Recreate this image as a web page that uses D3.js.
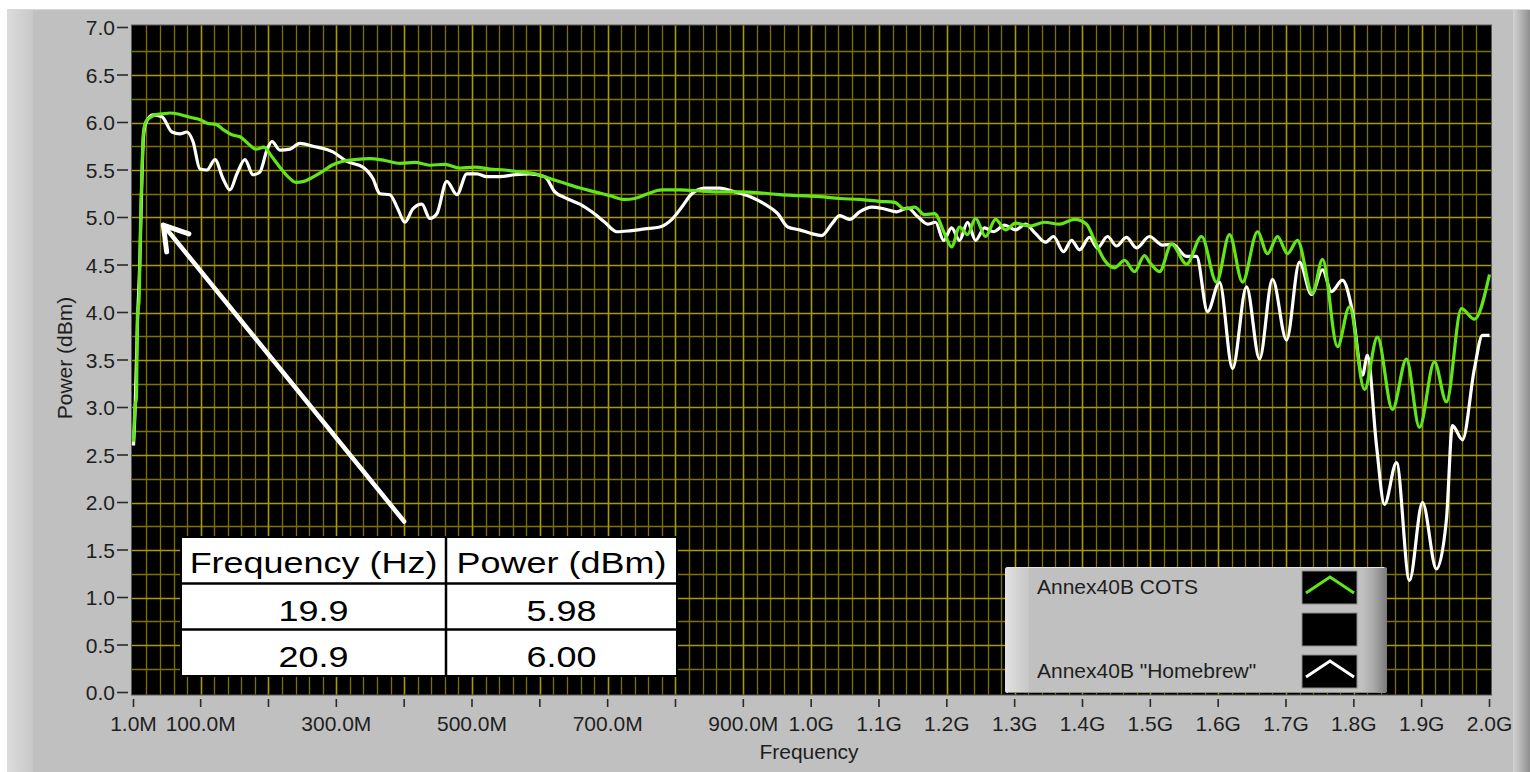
<!DOCTYPE html>
<html>
<head>
<meta charset="utf-8">
<script src="https://cdn.jsdelivr.net/npm/d3@7"></script>
<style>
  html, body { margin: 0; padding: 0; background: #ffffff; }
  svg { display: block; }
  .lv { font-family: "Liberation Sans", Arial, sans-serif; fill: #1e1e1e; }
</style>
</head>
<body>
<svg id="chart" width="1530" height="772"></svg>
<script>
// ---------------- DATA ----------------
const cotsFreqMHz = [1, 3.2, 5.4, 6.9, 9.1, 10.6, 12.1, 12.8, 14.3, 15.7, 19.4, 25.3, 32.7, 43.0, 54.8, 66.6, 76.9, 87.2, 99.0,
  110.8, 122.6, 134.3, 146.1, 157.9, 169.7, 181.5, 193.3, 205.1, 216.8, 228.6, 240.4, 252.2, 264.0, 278.7, 293.5, 308.2,
  327.4, 349.5, 371.6, 393.7, 415.8, 437.9, 460.0, 482.1, 504.2, 526.3, 548.4, 570.5, 592.6, 614.7, 636.8, 659.0, 681.1,
  703.1, 725.2, 740.0, 759.1, 779.7, 806.2, 835.7, 865.2, 894.6, 924.1, 953.6, 983.0, 1012.5, 1042.0, 1071.4, 1100.9,
  1123.0, 1137.7, 1152.5, 1167.2, 1181.9, 1196.7, 1207.0, 1218.8, 1230.6, 1242.3, 1257.1, 1271.8, 1286.6, 1301.3, 1321.9,
  1344.0, 1366.1, 1388.2, 1405.9, 1417.7, 1432.5, 1447.2, 1462.0, 1476.7, 1491.4, 1498.8, 1513.6, 1531.2, 1553.4, 1575.5,
  1597.6, 1616.7, 1635.9, 1658.0, 1672.7, 1687.5, 1702.2, 1716.9, 1739.0, 1753.8, 1775.9, 1793.6, 1815.7, 1834.8, 1856.9,
  1877.6, 1896.7, 1918.8, 1936.5, 1958.6, 1977.8, 2000];
const cotsPower = [2.64, 3.00, 3.11, 4.01, 4.11, 4.64, 5.17, 5.32, 5.69, 5.90, 6.01, 6.05, 6.08, 6.09, 6.10, 6.09, 6.07, 6.05, 6.03,
  5.99, 5.98, 5.92, 5.87, 5.85, 5.78, 5.72, 5.74, 5.64, 5.53, 5.43, 5.37, 5.38, 5.42, 5.48, 5.55, 5.59,
  5.61, 5.62, 5.60, 5.57, 5.58, 5.55, 5.56, 5.52, 5.53, 5.51, 5.50, 5.48, 5.46, 5.41, 5.36, 5.31, 5.27,
  5.23, 5.19, 5.20, 5.25, 5.29, 5.29, 5.28, 5.27, 5.27, 5.26, 5.24, 5.23, 5.22, 5.20, 5.19, 5.17,
  5.16, 5.09, 5.11, 5.03, 5.04, 4.83, 4.69, 4.90, 4.82, 4.99, 4.80, 4.98, 4.87, 4.94, 4.91,
  4.95, 4.93, 4.98, 4.93, 4.76, 4.55, 4.47, 4.55, 4.43, 4.60, 4.53, 4.43, 4.72, 4.51, 4.80,
  4.32, 4.82, 4.32, 4.85, 4.62, 4.80, 4.62, 4.76, 4.20, 4.56, 3.64, 4.06, 3.19, 3.74, 2.98,
  3.51, 2.79, 3.48, 3.06, 4.04, 3.93, 4.40];

const homebrewFreqMHz = [1, 3.2, 6.9, 10.6, 13.0, 15.7, 19.4, 29.7, 43.0, 57.7, 69.5, 79.8, 88.7, 99.0, 109.3, 121.1, 132.9,
  143.2, 153.5, 165.3, 177.1, 187.4, 197.7, 205.1, 216.8, 231.6, 246.3, 265.5, 295.0, 315.6, 339.2, 353.9, 364.2, 378.9,
  390.7, 401.0, 412.8, 426.1, 437.9, 448.2, 462.9, 477.7, 492.4, 507.1, 521.9, 541.0, 563.1, 585.2, 607.3, 622.1, 636.8,
  659.0, 676.6, 695.8, 713.5, 732.7, 754.8, 776.9, 794.6, 809.3, 824.1, 843.2, 865.2, 887.4, 909.5, 931.6, 950.7, 965.5,
  983.0, 1000.7, 1015.5, 1030.2, 1042.0, 1056.7, 1071.4, 1089.1, 1108.3, 1126.0, 1142.2, 1156.9, 1171.6, 1183.4, 1195.2,
  1207.0, 1218.8, 1230.6, 1242.3, 1255.6, 1268.8, 1285.1, 1301.3, 1316.0, 1330.8, 1345.5, 1357.3, 1372.0, 1383.8, 1395.6,
  1410.3, 1422.1, 1436.9, 1450.1, 1464.8, 1479.6, 1498.8, 1518.0, 1532.7, 1553.4, 1568.1, 1584.3, 1602.0, 1621.2, 1641.8,
  1661.0, 1680.1, 1700.8, 1719.9, 1737.6, 1753.8, 1767.0, 1783.2, 1798.0, 1812.7, 1820.1, 1833.4, 1845.2, 1862.9, 1882.0,
  1901.2, 1921.8, 1936.5, 1945.4, 1960.2, 1977.8, 1989.6, 2000];
const homebrewPower = [2.60, 2.95, 3.90, 4.60, 5.30, 5.85, 6.00, 6.08, 6.06, 5.90, 5.88, 5.90, 5.80, 5.51, 5.50, 5.61, 5.41,
  5.29, 5.46, 5.61, 5.45, 5.48, 5.71, 5.80, 5.71, 5.72, 5.78, 5.75, 5.69, 5.59, 5.53, 5.41, 5.25, 5.24,
  5.09, 4.95, 5.09, 5.14, 4.99, 5.04, 5.38, 5.24, 5.46, 5.46, 5.43, 5.43, 5.45, 5.46, 5.43, 5.27, 5.21,
  5.14, 5.06, 4.95, 4.85, 4.86, 4.88, 4.90, 4.98, 5.11, 5.25, 5.31, 5.31, 5.27, 5.22, 5.14, 5.04, 4.90,
  4.87, 4.83, 4.81, 4.93, 5.02, 4.98, 5.06, 5.11, 5.09, 5.06, 5.10, 5.01, 4.93, 4.95, 4.76,
  4.89, 4.76, 4.95, 4.76, 4.89, 4.85, 4.92, 4.87, 4.93, 4.83, 4.74, 4.80, 4.64, 4.76, 4.66,
  4.79, 4.68, 4.80, 4.70, 4.79, 4.68, 4.80, 4.71, 4.72, 4.59, 4.59, 4.01, 4.32, 3.41, 4.27,
  3.51, 4.35, 3.71, 4.53, 4.19, 4.45, 4.22, 4.34, 4.01, 3.34, 3.55, 2.60, 1.98, 2.42, 1.18,
  2.00, 1.30, 1.82, 2.81, 2.66, 3.41, 3.76, 3.76];

const seriesNames = ["Annex40B COTS", "", "Annex40B \"Homebrew\""];
const yTickValues = [0, 0.5, 1, 1.5, 2, 2.5, 3, 3.5, 4, 4.5, 5, 5.5, 6, 6.5, 7];
const yTickLabels = ["0.0", "0.5", "1.0", "1.5", "2.0", "2.5", "3.0", "3.5", "4.0", "4.5", "5.0", "5.5", "6.0", "6.5", "7.0"];
const xTickMHz = [1, 100, 200, 300, 400, 500, 600, 700, 800, 900, 1000, 1100, 1200, 1300, 1400, 1500, 1600, 1700, 1800, 1900, 2000];
const xTickLabels = ["1.0M", "100.0M", "", "300.0M", "", "500.0M", "", "700.0M", "", "900.0M", "1.0G", "1.1G", "1.2G", "1.3G",
  "1.4G", "1.5G", "1.6G", "1.7G", "1.8G", "1.9G", "2.0G"];
const xTitle = "Frequency";
const yTitle = "Power (dBm)";
const tableHeader = ["Frequency (Hz)", "Power (dBm)"];
const tableRows = [["19.9", "5.98"], ["20.9", "6.00"]];
const arrowFrom = [400, 1.8];   // MHz, dBm
const arrowTo = [45, 4.92];     // MHz, dBm

// ---------------- LAYOUT ----------------
const W = 1530, H = 772;
const plot = { x0: 131.5, x1: 1491.5, y0: 25, y1: 695 };
const svg = d3.select("#chart");

const x = d3.scaleLinear().domain([1, 2000]).range([133.5, 1489.5]);
const y = d3.scaleLinear().domain([0, 7]).range([692.5, 27.5]);

// ----- panel background -----
const defs = svg.append("defs");
const gl = defs.append("linearGradient").attr("id", "leftEdge").attr("x1", 0).attr("x2", 1);
gl.append("stop").attr("offset", 0).attr("stop-color", "#dcdcdc");
gl.append("stop").attr("offset", 1).attr("stop-color", "#c8c8c8");
const gr = defs.append("linearGradient").attr("id", "rightEdge").attr("x1", 0).attr("x2", 1);
gr.append("stop").attr("offset", 0).attr("stop-color", "#d2d2d2");
gr.append("stop").attr("offset", 0.35).attr("stop-color", "#bcbcbc");
gr.append("stop").attr("offset", 1).attr("stop-color", "#8e8e8e");
const lgR = defs.append("linearGradient").attr("id", "legRight").attr("x1", 0).attr("x2", 1);
lgR.append("stop").attr("offset", 0).attr("stop-color", "#c4c4c4");
lgR.append("stop").attr("offset", 0.5).attr("stop-color", "#a8a8a8");
lgR.append("stop").attr("offset", 1).attr("stop-color", "#7a7a7a");
const lgL = defs.append("linearGradient").attr("id", "legLeft").attr("x1", 0).attr("x2", 1);
lgL.append("stop").attr("offset", 0).attr("stop-color", "#e2e2e2");
lgL.append("stop").attr("offset", 1).attr("stop-color", "#c6c6c6");

svg.append("rect").attr("x", 0).attr("y", 0).attr("width", W).attr("height", H).attr("fill", "#ffffff");
svg.append("rect").attr("x", 7).attr("y", 9).attr("width", W - 7).attr("height", H - 9).attr("fill", "#c0c0c0");
svg.append("rect").attr("x", 7).attr("y", 9).attr("width", 26).attr("height", H - 9).attr("fill", "url(#leftEdge)");
svg.append("rect").attr("x", 1513).attr("y", 9).attr("width", 17).attr("height", H - 9).attr("fill", "url(#rightEdge)");
svg.append("line").attr("x1", 7).attr("x2", W).attr("y1", 9.5).attr("y2", 9.5).attr("stroke", "#d8d8d8");

// ----- plot area -----
svg.append("rect").attr("x", plot.x0).attr("y", plot.y0)
  .attr("width", plot.x1 - plot.x0).attr("height", plot.y1 - plot.y0)
  .attr("fill", "#000000").attr("stroke", "#5a5a5a").attr("stroke-width", 1);

defs.append("clipPath").attr("id", "plotClip").append("rect")
  .attr("x", plot.x0 + 0.5).attr("y", plot.y0 + 0.5)
  .attr("width", plot.x1 - plot.x0 - 1).attr("height", plot.y1 - plot.y0 - 1);

const grid = svg.append("g").attr("clip-path", "url(#plotClip)");
const minorX = d3.range(20, 2000, 20).filter(v => v % 100 !== 0);
const majorX = d3.range(100, 2000, 100);
const minorY = d3.range(0.25, 7, 0.5);
const majorY = d3.range(1, 14).map(v => v / 2);

grid.selectAll(".mnx").data(minorX).enter().append("line")
  .attr("x1", d => Math.round(x(d)) + 0.5).attr("x2", d => Math.round(x(d)) + 0.5)
  .attr("y1", plot.y0).attr("y2", plot.y1).attr("stroke", "#7d7200").attr("stroke-width", 1.3);
grid.selectAll(".mny").data(minorY).enter().append("line")
  .attr("y1", d => Math.round(y(d)) + 0.5).attr("y2", d => Math.round(y(d)) + 0.5)
  .attr("x1", plot.x0).attr("x2", plot.x1).attr("stroke", "#7d7200").attr("stroke-width", 1.3);
grid.selectAll(".mjx").data(majorX).enter().append("line")
  .attr("x1", d => Math.round(x(d)) + 0.5).attr("x2", d => Math.round(x(d)) + 0.5)
  .attr("y1", plot.y0).attr("y2", plot.y1).attr("stroke", "#a89a00").attr("stroke-width", 1.6);
grid.selectAll(".mjy").data(majorY).enter().append("line")
  .attr("y1", d => Math.round(y(d)) + 0.5).attr("y2", d => Math.round(y(d)) + 0.5)
  .attr("x1", plot.x0).attr("x2", plot.x1).attr("stroke", "#a89a00").attr("stroke-width", 1.6);

// ----- series -----
const lineGen = d3.line().x(d => x(d[0])).y(d => y(d[1])).curve(d3.curveMonotoneX);
const hbData = homebrewFreqMHz.map((f, i) => [f, homebrewPower[i]]);
const cotsData = cotsFreqMHz.map((f, i) => [f, cotsPower[i]]);
const series = svg.append("g").attr("clip-path", "url(#plotClip)");
series.append("path").datum(hbData).attr("d", lineGen)
  .attr("fill", "none").attr("stroke", "#ffffff").attr("stroke-width", 3.2).attr("stroke-linejoin", "round");
series.append("path").datum(cotsData).attr("d", lineGen)
  .attr("fill", "none").attr("stroke", "#62e619").attr("stroke-width", 3.2).attr("stroke-linejoin", "round");

// ----- axes -----
const yAxis = svg.append("g");
yTickValues.forEach((v, i) => {
  const py = y(v);
  yAxis.append("line").attr("x1", 117).attr("x2", 128).attr("y1", py).attr("y2", py)
    .attr("stroke", "#2a2a2a").attr("stroke-width", 1.6);
  yAxis.append("text").attr("class", "lv").attr("x", 115).attr("y", py + 7.5)
    .attr("text-anchor", "end").attr("font-size", 21).text(yTickLabels[i]);
});
const xAxis = svg.append("g");
xTickMHz.forEach((v, i) => {
  const px = x(v);
  xAxis.append("line").attr("x1", px).attr("x2", px).attr("y1", 699).attr("y2", 707)
    .attr("stroke", "#2a2a2a").attr("stroke-width", 1.6);
  if (xTickLabels[i]) {
    xAxis.append("text").attr("class", "lv").attr("x", px).attr("y", 731)
      .attr("text-anchor", "middle").attr("font-size", 21).text(xTickLabels[i]);
  }
});
svg.append("text").attr("class", "lv").attr("x", 809).attr("y", 759)
  .attr("text-anchor", "middle").attr("font-size", 21).text(xTitle);
svg.append("text").attr("class", "lv").attr("transform", "translate(72,358) rotate(-90)")
  .attr("text-anchor", "middle").attr("font-size", 21).text(yTitle);

// ----- arrow annotation -----
const ax0 = x(arrowFrom[0]), ay0 = y(arrowFrom[1]);
const ax1 = x(arrowTo[0]), ay1 = y(arrowTo[1]);
const ang = Math.atan2(ay0 - ay1, ax0 - ax1);
const armLen = 27, spread = 32 * Math.PI / 180;
svg.append("line").attr("x1", ax0).attr("y1", ay0).attr("x2", ax1).attr("y2", ay1)
  .attr("stroke", "#ffffff").attr("stroke-width", 4.5).attr("stroke-linecap", "round");
svg.append("polyline")
  .attr("points", [
    [ax1 + armLen * Math.cos(ang + spread), ay1 + armLen * Math.sin(ang + spread)],
    [ax1, ay1],
    [ax1 + armLen * Math.cos(ang - spread), ay1 + armLen * Math.sin(ang - spread)]
  ].map(p => p.join(",")).join(" "))
  .attr("fill", "none").attr("stroke", "#ffffff").attr("stroke-width", 5)
  .attr("stroke-linecap", "round").attr("stroke-linejoin", "round");

// ----- data table overlay -----
const tbl = { x0: 181, x1: 677, xm: 446, rows: [537, 583.5, 629.5, 676] };
const tg = svg.append("g");
tg.append("rect").attr("x", tbl.x0).attr("y", tbl.rows[0]).attr("width", tbl.x1 - tbl.x0)
  .attr("height", tbl.rows[3] - tbl.rows[0]).attr("fill", "#ffffff").attr("stroke", "#000000").attr("stroke-width", 2);
tg.append("line").attr("x1", tbl.xm).attr("x2", tbl.xm).attr("y1", tbl.rows[0]).attr("y2", tbl.rows[3])
  .attr("stroke", "#000000").attr("stroke-width", 2.5);
[tbl.rows[1], tbl.rows[2]].forEach(ry => tg.append("line").attr("x1", tbl.x0).attr("x2", tbl.x1)
  .attr("y1", ry).attr("y2", ry).attr("stroke", "#000000").attr("stroke-width", 2.5));
const sx = 1.24;
const colCx = [(tbl.x0 + tbl.xm) / 2, (tbl.xm + tbl.x1) / 2];
const tableText = [tableHeader].concat(tableRows);
const baselines = [573, 621, 667];
tableText.forEach((row, r) => row.forEach((t, c) => {
  tg.append("text").attr("transform", `scale(${sx},1)`)
    .attr("x", colCx[c] / sx).attr("y", baselines[r]).attr("text-anchor", "middle")
    .attr("font-family", "Liberation Sans, Arial, sans-serif").attr("font-size", 29)
    .attr("fill", "#000000").text(t);
}));

// ----- legend -----
const leg = { x: 1005, y: 567, w: 382, h: 126 };
const lg = svg.append("g");
lg.append("rect").attr("x", leg.x).attr("y", leg.y).attr("width", leg.w).attr("height", leg.h)
  .attr("rx", 3).attr("fill", "#c0c0c0");
lg.append("rect").attr("x", leg.x).attr("y", leg.y).attr("width", 24).attr("height", leg.h)
  .attr("rx", 3).attr("fill", "url(#legLeft)");
lg.append("rect").attr("x", leg.x + leg.w - 26).attr("y", leg.y).attr("width", 26).attr("height", leg.h)
  .attr("rx", 3).attr("fill", "url(#legRight)");
lg.append("line").attr("x1", leg.x + 3).attr("x2", leg.x + leg.w - 3).attr("y1", leg.y + 0.5).attr("y2", leg.y + 0.5)
  .attr("stroke", "#e4e4e4");
lg.append("line").attr("x1", leg.x + 3).attr("x2", leg.x + leg.w - 3).attr("y1", leg.y + leg.h - 0.5).attr("y2", leg.y + leg.h - 0.5)
  .attr("stroke", "#8a8a8a");
const swatchY = [571, 613, 655];
const swatchColors = ["#62e619", null, "#ffffff"];
seriesNames.forEach((name, i) => {
  lg.append("rect").attr("x", 1302).attr("y", swatchY[i]).attr("width", 55).attr("height", 33)
    .attr("fill", "#000000").attr("stroke", "#8a8a8a").attr("stroke-width", 1);
  if (swatchColors[i]) {
    lg.append("polyline")
      .attr("points", `1306,${swatchY[i] + 22} 1330,${swatchY[i] + 6} 1354,${swatchY[i] + 22}`)
      .attr("fill", "none").attr("stroke", swatchColors[i]).attr("stroke-width", 3);
  }
  if (name) {
    lg.append("text").attr("class", "lv").attr("x", 1037).attr("y", swatchY[i] + 23)
      .attr("font-size", 21).text(name);
  }
});
</script>
</body>
</html>
